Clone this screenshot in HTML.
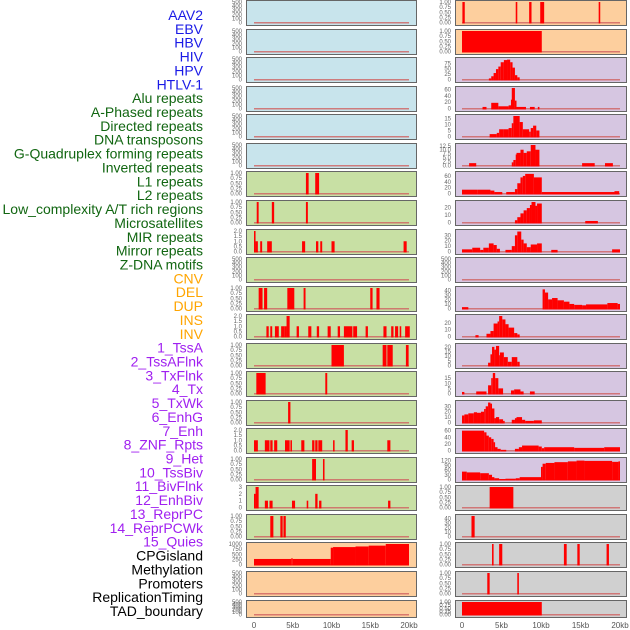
<!DOCTYPE html>
<html><head><meta charset="utf-8">
<style>
body{margin:0;background:#fff;width:630px;height:630px;overflow:hidden}
svg{display:block}
.lbl{font-family:"Liberation Sans",sans-serif;font-size:14px}
.tk{font-family:"Liberation Sans",sans-serif;font-size:6px;fill:#666}
.xt{font-family:"Liberation Sans",sans-serif;font-size:8px;fill:#555}
</style></head><body>
<svg id="chart" width="630" height="630" viewBox="0 0 630 630"></svg>
<script>
// ---- data ----
const trackLabels=["AAV2","EBV","HBV","HIV","HPV","HTLV-1","Alu repeats","A-Phased repeats","Directed repeats","DNA transposons","G-Quadruplex forming repeats","Inverted repeats","L1 repeats","L2 repeats","Low_complexity A/T rich regions","Microsatellites","MIR repeats","Mirror repeats","Z-DNA motifs","CNV","DEL","DUP","INS","INV","1_TssA","2_TssAFlnk","3_TxFlnk","4_Tx","5_TxWk","6_EnhG","7_Enh","8_ZNF_Rpts","9_Het","10_TssBiv","11_BivFlnk","12_EnhBiv","13_ReprPC","14_ReprPCWk","15_Quies","CPGisland","Methylation","Promoters","ReplicationTiming","TAD_boundary"];
const labelColors=["#1a1ae6","#1a1ae6","#1a1ae6","#1a1ae6","#1a1ae6","#1a1ae6","#116611","#116611","#116611","#116611","#116611","#116611","#116611","#116611","#116611","#116611","#116611","#116611","#116611","#ffa500","#ffa500","#ffa500","#ffa500","#ffa500","#a020f0","#a020f0","#a020f0","#a020f0","#a020f0","#a020f0","#a020f0","#a020f0","#a020f0","#a020f0","#a020f0","#a020f0","#a020f0","#a020f0","#a020f0","#000","#000","#000","#000","#000"];
const xTickLabels=["0","5kb","10kb","15kb","20kb"];
const xTickValues=[0,5,10,15,20];
const T500=[0,100,200,300,400,500], T1=[0,0.25,0.5,0.75,1], T2=[0,0.5,1,1.5,2];
const leftColors=["#c8e4ec","#c8e4ec","#c8e4ec","#c8e4ec","#c8e4ec","#c8e4ec","#c8e0a4","#c8e0a4","#c8e0a4","#c8e0a4","#c8e0a4","#c8e0a4","#c8e0a4","#c8e0a4","#c8e0a4","#c8e0a4","#c8e0a4","#c8e0a4","#c8e0a4","#fdcf9e","#fdcf9e","#fdcf9e"];
const rightColors=["#fdcf9e","#fdcf9e","#d6c6e1","#d6c6e1","#d6c6e1","#d6c6e1","#d6c6e1","#d6c6e1","#d6c6e1","#d6c6e1","#d6c6e1","#d6c6e1","#d6c6e1","#d6c6e1","#d6c6e1","#d6c6e1","#d6c6e1","#d0d0d0","#d0d0d0","#d0d0d0","#d0d0d0","#d0d0d0"];
const leftMax=[500,500,500,500,500,500,1,1,2,500,1,2,1,1,1,2,1,3,1,1000,500,500];
const rightMax=[1,1,95,65,17,13,70,27,38,500,45,30,22,20,38,62,130,1,45,1,1,1];
const leftTicks=[T500,T500,T500,T500,T500,T500,T1,T1,T2,T500,T1,T2,T1,T1,T1,T2,T1,[0,1,2,3],T1,[0,250,500,750,1000],T500,T500];
const rightTicks=[T1,T1,[0,25,50,75],[0,20,40,60],[0,5,10,15],[0,2.5,5,7.5,10,12.5],[0,20,40,60],[0,10,20],[0,10,20,30],T500,[0,10,20,30,40],[0,10,20],[0,5,10,15,20],[0,5,10,15],[0,10,20,30],[0,20,40,60],[0,30,60,90,120],T1,[0,10,20,30,40],T1,T1,T1];
// segments: [startKb, endKb, value]
const L7=[[6.7,7.05,1],[7.9,8.4,1]];
const L8=[[0.35,0.6,1],[2.3,2.6,1],[6.7,6.95,1]];
const L9=[[0,0.2,2],[0.2,0.5,1],[0.8,1.05,1],[1.7,2.3,1],[6.2,6.6,1],[8.0,8.3,1],[8.55,8.8,1],[10,10.4,1],[19.3,19.7,1]];
const L11=[[0.6,1.1,1],[1.3,1.7,1],[4.3,5.2,1],[6.4,6.65,1],[15.0,15.3,1],[15.8,16.2,1]];
const L12=[[1.6,1.9,1],[2.1,2.35,1],[2.7,3.2,1],[3.5,3.9,1],[3.9,4.2,1],[4.2,4.6,2],[5.5,5.8,1],[7.0,7.4,1],[8.1,8.4,1],[9.5,9.9,1],[10.8,11.1,1],[11.6,12.7,1],[12.8,13.3,1],[14.4,14.7,1],[16.7,17.1,1],[17.7,18.0,1],[18.2,18.6,1],[18.8,19.0,1],[19.5,20.1,1]];
const L13=[[10.0,11.6,1],[16.6,17.1,1],[17.2,17.9,1],[19.6,19.95,1]];
const L14=[[0.3,1.5,1],[9.2,9.45,1]];
const L15=[[4.4,4.7,1]];
const L16=[[0,0.5,1],[1.4,2.0,1],[2.1,2.4,1],[2.6,3.0,1],[4.0,4.6,1],[4.7,4.9,1],[6.1,6.5,1],[7.5,7.8,1],[7.9,8.2,1],[8.3,8.8,1],[10.2,10.4,1],[11.8,12.1,2],[12.6,12.9,1],[17.2,17.6,1]];
const L17=[[7.5,8.0,1],[8.9,9.1,1]];
const L18=[[0,0.2,2],[0.2,0.6,3],[1.4,1.8,1],[2.0,2.4,1],[4.9,5.3,1],[6.8,7.0,1],[7.9,8.2,2],[8.4,8.7,1],[17.3,17.6,1]];
const L19=[[2.1,2.5,1],[3.4,3.7,1],[3.8,4.1,1]];
const L20=[[0,4.8,270],[4.8,5.0,300],[5.0,9.9,270],[9.9,10.2,820],[10.2,13.1,850],[13.1,14.8,880],[14.8,17.0,920],[17.0,20.0,1000]];
const R1=[[0.05,0.35,1],[6.8,7.0,1],[8.5,8.8,1],[9.9,10.4,1],[17.3,17.5,1]];
const R2=[[0,10.1,1]];
const R3=[[3.4,3.7,5],[3.7,4.0,15],[4.0,4.3,30],[4.3,4.6,48],[4.6,4.9,60],[4.9,5.3,80],[5.3,5.7,90],[5.7,6.1,92],[6.1,6.4,80],[6.4,6.7,55],[6.7,7.0,20],[7.0,7.3,10]];
const R4=[[2.6,3.1,5],[3.7,4.6,18],[4.6,5.9,7],[5.9,6.2,10],[6.2,6.3,28],[6.3,6.7,65],[6.7,6.9,25],[6.9,8.1,5],[8.6,9.2,5],[9.6,9.8,5]];
const R5=[[3.5,4.4,2],[4.4,4.7,3],[4.7,5.3,6],[5.3,5.9,6],[5.9,6.3,7],[6.3,6.5,11],[6.5,7.3,17],[7.3,7.7,12],[7.7,8.5,6],[8.5,8.7,4],[8.7,9.0,7],[9.0,9.4,9],[9.4,9.8,5]];
const R6=[[0.9,1.8,1.5],[6.3,6.5,2],[6.5,6.8,3.5],[6.8,6.9,7],[6.9,7.4,8],[7.4,7.8,10],[7.8,8.2,8],[8.2,8.7,9],[8.7,9.3,13],[9.3,9.8,10],[15.2,16.8,1.5],[18.1,19.1,1.5]];
const R7=[[0,2.0,13],[2.0,3.6,13],[3.6,4.1,10],[4.1,5.1,5],[5.6,6.7,5],[6.7,7.0,15],[7.0,7.4,35],[7.4,7.7,55],[7.7,8.0,60],[8.0,9.1,67],[9.1,10.1,55],[10.1,19.3,5],[19.3,19.9,8]];
const R8=[[6.7,7.0,3],[7.0,7.4,7],[7.4,7.8,12],[7.8,8.2,16],[8.2,8.6,19],[8.6,8.8,23],[8.8,9.3,27],[9.3,9.5,22],[9.5,10.1,25],[15.6,17.2,2]];
const R9=[[0,1.3,4],[1.3,2.3,7],[2.3,2.7,3],[2.7,3.4,7],[3.4,4.0,15],[4.0,4.4,12],[4.4,4.8,5],[5.5,6.3,3],[6.3,6.7,10],[6.7,7.0,30],[7.0,7.5,37],[7.5,7.8,22],[7.8,8.2,15],[8.2,8.7,8],[8.7,9.5,13],[9.5,10.1,15],[11.3,12.1,3],[19.0,20.0,4]];
const R11=[[0,0.8,3],[10.2,10.5,42],[10.5,10.9,35],[10.9,11.4,20],[11.4,12.1,23],[12.1,12.9,18],[12.9,13.6,15],[13.6,14.2,10],[14.2,15.2,8],[15.2,15.7,7],[15.7,18.4,9],[18.4,19.7,12],[19.7,20.0,10]];
const R12=[[1.7,2.1,2],[3.1,3.6,4],[3.6,4.0,8],[4.0,4.5,19],[4.5,4.7,22],[4.7,5.1,30],[5.1,5.5,25],[5.5,5.9,18],[5.9,6.6,13],[6.6,7.0,5],[7.0,7.3,3]];
const R13=[[3.3,3.6,3],[3.6,3.8,12],[3.8,4.1,20],[4.1,4.3,17],[4.3,4.7,21],[4.7,4.8,11],[4.8,5.3,14],[5.3,5.8,9],[5.8,6.3,4],[6.3,7.0,9],[7.0,7.3,4]];
const R14=[[0,0.3,1.5],[1.8,3.1,2],[3.3,3.7,8],[3.7,3.9,15],[3.9,4.2,20],[4.2,4.6,15],[4.6,5.2,5],[6.2,6.6,3],[6.6,7.4,4],[7.4,7.8,2],[8.6,9.2,2]];
const R15=[[0,0.3,13],[0.3,0.8,15],[0.8,1.5,17],[1.5,1.9,19],[1.9,2.4,18],[2.4,2.8,20],[2.8,3.0,25],[3.0,3.3,30],[3.3,3.6,37],[3.6,3.8,35],[3.8,4.1,26],[4.1,4.3,8],[4.3,4.7,10],[4.7,5.2,6],[5.2,5.4,3],[6.3,6.7,5],[6.7,6.9,8],[6.9,7.6,10],[7.6,8.0,5],[8.0,9.1,3],[9.1,10.1,4]];
const R16=[[0,2.8,60],[2.8,3.1,55],[3.1,3.4,45],[3.4,3.7,40],[3.7,4.0,35],[4.0,4.1,25],[4.1,4.5,10],[4.5,4.9,5],[4.9,5.6,2],[6.7,7.2,5],[7.2,7.6,10],[7.6,9.7,15],[9.7,10.1,12],[10.1,10.4,7],[10.4,14.2,10],[14.2,18.0,8],[18.0,20.0,10]];
const R17=[[0,0.6,50],[0.6,2.3,45],[2.3,3.4,40],[3.4,3.8,30],[3.8,4.1,15],[4.1,4.7,8],[4.7,5.5,3],[5.5,6.8,5],[6.8,7.3,8],[7.3,10.0,15],[10.0,10.2,80],[10.2,10.6,100],[10.6,11.7,105],[11.7,13.4,110],[13.4,14.5,115],[14.5,15.5,120],[15.5,19.0,118],[19.0,19.8,112],[19.8,20.0,115]];
const R18=[[3.5,6.5,1]];
const R19=[[1.2,1.6,45]];
const R20=[[3.8,4.0,1],[4.7,5.1,1],[12.9,13.25,1],[14.6,14.9,1],[18.3,18.6,1]];
const R21=[[3.2,3.5,1],[7.0,7.2,1]];
const R22=[[0,10.1,1]];
const E=[];
const leftSeries=[E,E,E,E,E,E,L7,L8,L9,E,L11,L12,L13,L14,L15,L16,L17,L18,L19,L20,E,E];
const rightSeries=[R1,R2,R3,R4,R5,R6,R7,R8,R9,E,R11,R12,R13,R14,R15,R16,R17,R18,R19,R20,R21,R22];
const panelTops=[0,29,57,86,114,143,171,200,229,257,286,314,343,371,400,428,457,485,514,542,571,600];

// ---- drawing ----
const NS="http://www.w3.org/2000/svg";
const svg=document.getElementById('chart');
function mk(t,a,p){const e=document.createElementNS(NS,t);for(const k in a)e.setAttribute(k,a[k]);(p||svg).appendChild(e);return e;}
const cols=[{px:246,pw:170,x0:254,x1:409,tickX:242,colors:leftColors,max:leftMax,ticks:leftTicks,series:leftSeries,side:'left'},
            {px:455,pw:171,x0:462,x1:620,tickX:451,colors:rightColors,max:rightMax,ticks:rightTicks,series:rightSeries,side:'right'}];
function fmt(v,max){if(max<=3&&max!==1&&max!==3)return v.toFixed(1);if(max===1)return v.toFixed(2);if(max===13)return v.toFixed(1);return String(v);}
cols.forEach(c=>{
  const xs=kb=>c.x0+(kb/20)*(c.x1-c.x0);
  panelTops.forEach((top,i)=>{
    const h=(i===panelTops.length-1)?17:25;
    const g=mk('g',{});
    
    
    mk('rect',{x:c.px+0.5,y:top+0.5,width:c.pw,height:h,fill:c.colors[i],stroke:'#666','stroke-width':1},g);
    const base=top+h-2.5, ytop=top+2;
    const ys=v=>base-(v/c.max[i])*(base-ytop);
    c.ticks[i].forEach(t=>{
      const tx=mk('text',{x:c.tickX,y:ys(t)+2,'text-anchor':'end',class:'tk'},g);
      tx.textContent=fmt(t,c.max[i]);
    });
    mk('rect',{x:xs(0),y:base-0.5,width:xs(20)-xs(0),height:1.5,fill:'#d06060',opacity:0.8},g);
    c.series[i].forEach(s=>{
      const r=mk('rect',{x:xs(s[0]),y:ys(s[2]),width:Math.max(1.5,xs(s[1])-xs(s[0])),height:base+1-ys(s[2]),fill:'#ff0000'},g);
      
      
    });
  });
  xTickValues.forEach((v,j)=>{
    const t=mk('text',{x:xs(v),y:628,'text-anchor':'middle',class:'xt'});
    
    
    t.textContent=xTickLabels[j];
  });
});
trackLabels.forEach((l,i)=>{
  const t=mk('text',{x:203,y:20+i*13.86,'text-anchor':'end',class:'lbl',fill:labelColors[i]});
  
  
  t.textContent=l;
});
</script>
</body></html>
